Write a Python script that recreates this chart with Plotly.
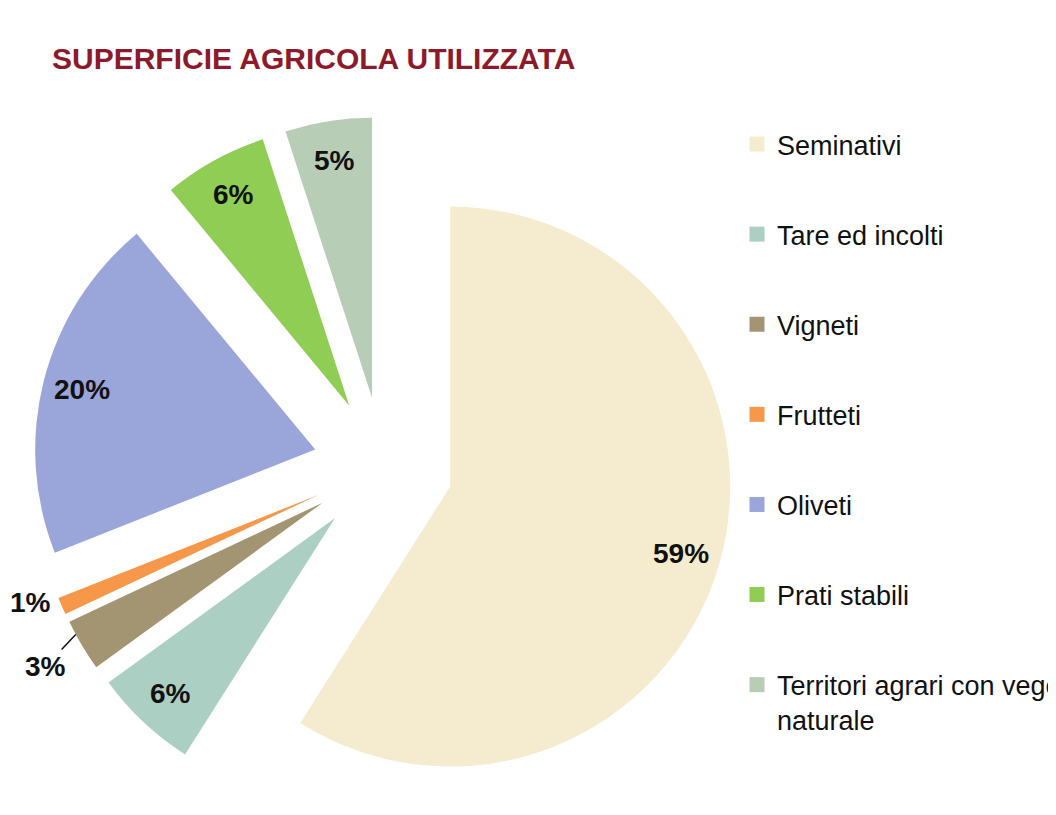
import math
import plotly.graph_objects as go

# superficie agricola utilizzata, quote percentuali
labels = ["Seminativi", "Tare ed incolti", "Vigneti", "Frutteti", "Oliveti",
          "Prati stabili", "Territori agrari con vegetazione<br>naturale"]
values = [59, 6, 3, 1, 20, 6, 5]
colors = ["#f5ebcf", "#abcfc3", "#a39572", "#f7974a", "#9aa5da", "#8fcd55", "#b7cdb5"]

# label placement style: inside/outside, leader line, small angular nudge (deg)
inside = [True, True, False, False, True, True, True]
leader = [False, False, True, False, False, False, False]
nudge = [0, 0, 0, 3, 0, 0, 0]

W, H = 1056, 815
PULL = 0.25
# pie domain in pixels (page has an 8px body margin, so everything sits 8px up/left)
DX0, DX1, DY0, DY1 = 25, 725, 109, 809

fig = go.Figure()

fig.add_trace(
    go.Pie(
        labels=labels,
        values=values,
        sort=False,
        direction="clockwise",
        rotation=0,
        pull=[PULL] * len(values),
        marker=dict(colors=colors),
        textinfo="none",
        domain=dict(x=[DX0 / W, DX1 / W], y=[1 - DY1 / H, 1 - DY0 / H]),
        showlegend=False,
        hoverinfo="label+percent",
    )
)

# percentage labels placed along each slice's mid angle
cx, cy = (DX0 + DX1) / 2, (DY0 + DY1) / 2
r = min(DX1 - DX0, DY1 - DY0) / (2 + 2 * PULL)
total = sum(values)
acc = 0
label_font = dict(family="Liberation Sans", size=28, color="#111111", weight="bold")
for v, ins, ld, ng in zip(values, inside, leader, nudge):
    mid = (acc + v / 2) / total * 2 * math.pi
    acc += v
    ux, uy = math.sin(mid), -math.cos(mid)
    ox, oy = cx + PULL * r * ux, cy + PULL * r * uy
    a = mid + math.radians(ng)
    k = 0.86 if ins else (1.1 if ng else 1.15)
    tx, ty = ox + k * r * math.sin(a), oy - k * r * math.cos(a)
    if ld:
        b = mid + math.radians(2.5)
        px_, py_ = ox + 1.0 * r * math.sin(b), oy - 1.0 * r * math.cos(b)
        fig.add_annotation(
            x=px_ / W, y=1 - py_ / H, xref="paper", yref="paper",
            ax=tx - px_, ay=ty - py_,
            text=f"{v}%", showarrow=True, arrowhead=0, arrowwidth=1.5,
            arrowcolor="#111111", font=label_font, standoff=0,
            xanchor="center", yanchor="middle",
        )
    else:
        fig.add_annotation(
            x=tx / W, y=1 - ty / H, xref="paper", yref="paper",
            text=f"{v}%", showarrow=False, font=label_font,
            xanchor="center", yanchor="middle",
        )

# legend entries (one group each so the spacing can be set)
for lab, col in zip(labels, colors):
    fig.add_trace(
        go.Scatter(
            x=[None], y=[None],
            mode="markers",
            name=lab,
            legendgroup=lab,
            marker=dict(symbol="square", size=15, color=col),
            hoverinfo="skip",
        )
    )

fig.update_layout(
    width=W,
    height=H,
    margin=dict(l=0, r=0, t=0, b=0, autoexpand=False),
    paper_bgcolor="white",
    plot_bgcolor="white",
    title=dict(
        text="SUPERFICIE AGRICOLA UTILIZZATA",
        x=44 / W, xanchor="left",
        y=1 - 50 / H, yanchor="middle",
        font=dict(family="Liberation Sans", size=30, color="#8c1a2b", weight="bold"),
    ),
    xaxis=dict(visible=False),
    yaxis=dict(visible=False),
    legend=dict(
        x=729 / W, xanchor="left",
        y=1 - 112 / H, yanchor="top",
        font=dict(family="Liberation Sans", size=27, color="#111111"),
        tracegroupgap=52,
        valign="top",
        bgcolor="rgba(0,0,0,0)",
    ),
)

fig.write_html("out.html")
